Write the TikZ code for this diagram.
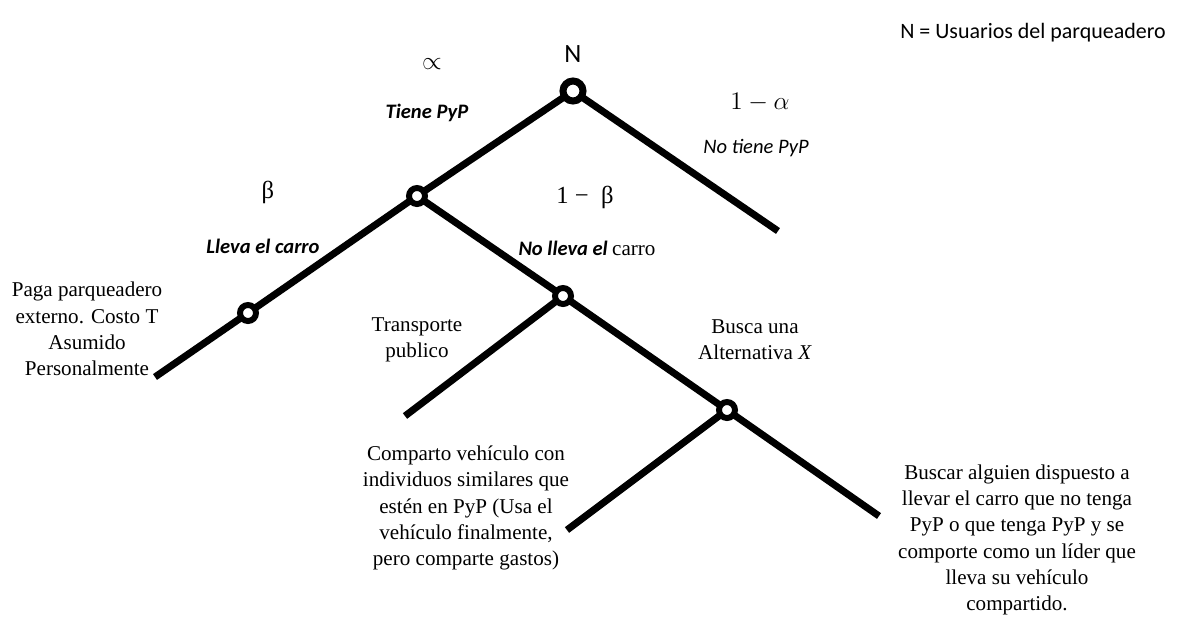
\documentclass[tikz,border=0pt]{standalone}
\usepackage{fontspec}
\setmainfont{Liberation Serif}
\newfontfamily\carlito{Carlito}
\begin{document}
\begin{tikzpicture}[x=0.02cm,y=-0.02cm,
  branch/.style={line width=4pt},
  knot/.style={circle,draw,fill=white,line width=3.4pt,inner sep=0pt,minimum size=0.32cm,outer sep=0pt},
  rootknot/.style={knot,line width=4pt,minimum size=0.4cm},
  serif/.style={font=\fontsize{12}{15}\selectfont,align=center,inner sep=0pt},
  label/.style={font=\carlito\fontsize{11.7}{14}\selectfont\bfseries\itshape,inner sep=0pt},
  greek/.style={font=\fontsize{14}{16}\selectfont,inner sep=0pt}]
\useasboundingbox (0,0) rectangle (1188,620);

% decision points
\node[rootknot] (N) at (573,91) {};
\node[knot] (A) at (417,196) {};
\node[knot] (L) at (248,313) {};
\node[knot] (B) at (563,296) {};
\node[knot] (C) at (727,410) {};

% free ends of the branches
\coordinate (noPyP) at (778,231);
\coordinate (paga) at (155,377);
\coordinate (transp) at (405,416);
\coordinate (comparto) at (567,530);
\coordinate (buscar) at (879,516);

% branches
\draw[branch] (N) -- (A);
\draw[branch] (N) -- (noPyP);
\draw[branch] (A) -- (L);
\draw[branch] (L) -- (paga);
\draw[branch] (A) -- (B);
\draw[branch] (B) -- (transp);
\draw[branch] (B) -- (C);
\draw[branch] (C) -- (comparto);
\draw[branch] (C) -- (buscar);

% probabilities and branch labels
\node[font=\carlito\fontsize{15}{18}\selectfont,inner sep=0pt] (Nlab) at (573,54) {N};
\node[font=\carlito\fontsize{12.5}{15}\selectfont,inner sep=0pt] (legend) at (1033,33) {N = Usuarios del parqueadero};
\node[font=\fontsize{14}{16}\selectfont,inner sep=0pt] (alpha) at (432,64) {$\propto$};
\node[label] (tiene) at (427,113) {Tiene PyP};
\node[font=\fontsize{14}{16}\selectfont,inner sep=0pt] (notalpha) at (760,102) {$1-\alpha$};
\node[font=\carlito\fontsize{11.7}{14}\selectfont\itshape,inner sep=0pt] (notiene) at (756,148) {No tiene PyP};
\node[greek] (beta) at (268,192) {β};
\node[label] (lleva) at (263,246) {Lleva el carro};
\node[greek] (notbeta) at (585,197) {1 −\ \ β};
\node[inner sep=0pt] (nolleva) at (587,248) {{\carlito\fontsize{11.7}{14}\selectfont\bfseries\itshape No lleva el} {\fontsize{12}{15}\selectfont carro}};

% outcomes
\node[serif] (pagaTxt) at (87,329) {Paga parqueadero\\externo. Costo T\\Asumido\\Personalmente};
\node[serif] (transpTxt) at (417,340) {Transporte\\publico};
\node[serif] (buscaTxt) at (755,340) {Busca una\\Alternativa \textit{X}};
\node[serif] (compTxt) at (466,508) {Comparto vehículo con\\individuos similares que\\estén en PyP (Usa el\\vehículo finalmente,\\pero comparte gastos)};
\node[serif] (buscarTxt) at (1017,540) {Buscar alguien dispuesto a\\llevar el carro que no tenga\\PyP o que tenga PyP y se\\comporte como un líder que\\lleva su vehículo\\compartido.};
\end{tikzpicture}
\end{document}
